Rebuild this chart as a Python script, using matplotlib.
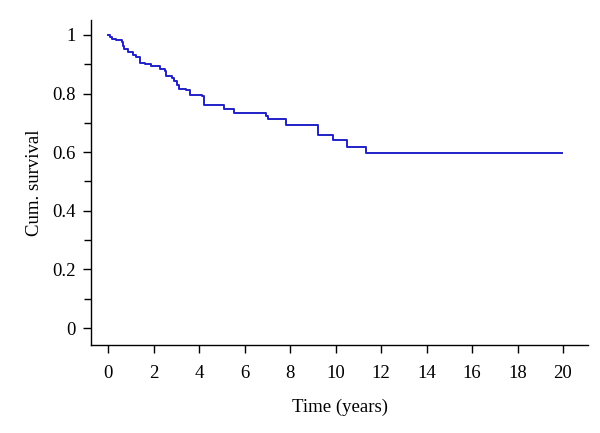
import matplotlib
matplotlib.use("Agg")
import matplotlib.pyplot as plt
from matplotlib.ticker import MultipleLocator

# Kaplan-Meier steps (time in years, survival after each event)
times = [0, 0.09, 0.18, 0.35, 0.6, 0.66, 0.7, 0.87, 1.09, 1.23, 1.38, 1.63, 1.89,
         2.29, 2.5, 2.55, 2.8, 2.87, 3.03, 3.09, 3.43, 3.6, 4.12, 4.19, 5.07, 5.51,
         6.93, 7.03, 7.82, 9.24, 9.9, 10.52, 11.34, 19.94]
survival = [1.0, 0.993, 0.986, 0.982, 0.975, 0.962, 0.952, 0.94, 0.933, 0.924, 0.905,
            0.899, 0.893, 0.884, 0.876, 0.86, 0.852, 0.842, 0.83, 0.815, 0.812, 0.795,
            0.79, 0.762, 0.748, 0.735, 0.722, 0.712, 0.693, 0.659, 0.642, 0.617, 0.596,
            0.596]

x_ticks = list(range(0, 21, 2))
y_ticks = [0, 0.2, 0.4, 0.6, 0.8, 1]
y_labels = ["0", "0.2", "0.4", "0.6", "0.8", "1"]

plt.rcParams["font.family"] = ["Liberation Serif", "DejaVu Serif"]

fig = plt.figure(figsize=(6, 4.33), dpi=100)
ax = fig.add_axes([0.152, 0.203, 0.828, 0.751])

ax.step(times, survival, where="post", color="#2020c8", lw=1.4)

ax.set_xlim(-0.75, 21.1)
ax.set_ylim(-0.058, 1.051)
ax.set_xticks(x_ticks)
ax.set_xticklabels([str(t) for t in x_ticks])
ax.set_yticks(y_ticks)
ax.set_yticklabels(y_labels)
ax.yaxis.set_minor_locator(MultipleLocator(0.1))

for side in ["top", "right"]:
    ax.spines[side].set_visible(False)
for side in ["left", "bottom"]:
    ax.spines[side].set_linewidth(1.0)

ax.tick_params(which="major", length=6, width=1, labelsize=13.5, pad=5)
ax.tick_params(which="minor", length=5, width=1)
ax.tick_params(axis="x", pad=8)

ax.set_xlabel("Time (years)", fontsize=13.5, labelpad=12)
ax.set_ylabel("Cum. survival", fontsize=13.5, labelpad=7)

fig.savefig("out.png", dpi=100)
plt.close()
